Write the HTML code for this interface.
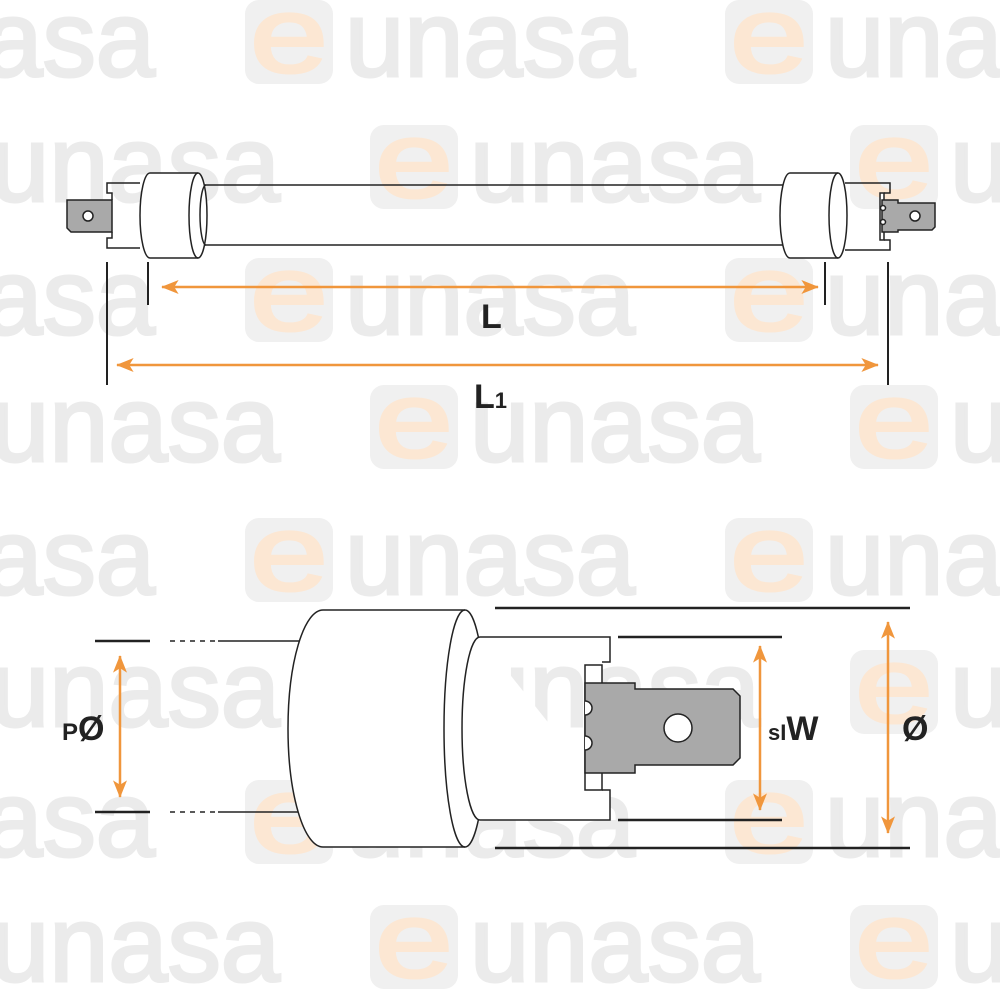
<!DOCTYPE html>
<html><head><meta charset="utf-8"><style>
html,body{margin:0;padding:0;background:#fff;}
svg{display:block}
</style></head><body>
<svg width="1000" height="1000" viewBox="0 0 1000 1000" xmlns="http://www.w3.org/2000/svg">
<defs>
<g id="wm">
<rect x="0" y="0" width="88" height="84" rx="14" fill="#f0f0f0"/>
<text x="44" y="72" font-family="Liberation Sans, sans-serif" font-size="108" text-anchor="middle" textLength="78" lengthAdjust="spacingAndGlyphs" fill="#fce7d3" stroke="#fce7d3" stroke-width="3">e</text>
<text x="100" y="76" font-family="Liberation Sans, sans-serif" font-size="108" textLength="290" lengthAdjust="spacingAndGlyphs" fill="#ebebeb" stroke="#ebebeb" stroke-width="3">unasa</text>
</g>
<marker id="ar" viewBox="0 0 20 16" refX="19" refY="8" markerWidth="18" markerHeight="14" orient="auto-start-reverse" markerUnits="userSpaceOnUse">
<path d="M0,0 L20,8 L0,16 L5,8 z" fill="#f0963c"/>
</marker>
</defs>
<g>
<use href="#wm" x="-235" y="0"/><use href="#wm" x="245" y="0"/><use href="#wm" x="725" y="0"/>
<use href="#wm" x="-110" y="125"/><use href="#wm" x="370" y="125"/><use href="#wm" x="850" y="125"/>
<use href="#wm" x="-235" y="258"/><use href="#wm" x="245" y="258"/><use href="#wm" x="725" y="258"/>
<use href="#wm" x="-110" y="385"/><use href="#wm" x="370" y="385"/><use href="#wm" x="850" y="385"/>
<use href="#wm" x="-235" y="518"/><use href="#wm" x="245" y="518"/><use href="#wm" x="725" y="518"/>
<use href="#wm" x="-110" y="650"/><use href="#wm" x="370" y="650"/><use href="#wm" x="850" y="650"/>
<use href="#wm" x="-235" y="780"/><use href="#wm" x="245" y="780"/><use href="#wm" x="725" y="780"/>
<use href="#wm" x="-110" y="905"/><use href="#wm" x="370" y="905"/><use href="#wm" x="850" y="905"/>
</g>

<g fill="none" stroke="#222" stroke-width="1.5">
<line x1="200" y1="185" x2="788" y2="185"/>
<line x1="200" y1="245" x2="788" y2="245"/>
<path d="M140,183 H107 V193 H112 V200 M112,232 V238 H107 V248 H140" />
<path d="M112,200 H67 V228 L71,232 H112 Z" fill="#a9a9a9"/>
<circle cx="88" cy="216" r="5" fill="#fff"/>
<path d="M150,173 H198 A9,42.5 0 0 1 198,258 H150 A10,42.5 0 0 1 150,173 Z" fill="#fff"/>
<path d="M198,173 A9,42.5 0 0 0 198,258"/>
<path d="M206,185 A6,30 0 0 0 206,245"/>
<path d="M790,173 H838 A9,42.5 0 0 1 838,258 H790 A10,42.5 0 0 1 790,173 Z" fill="#fff"/>
<path d="M838,173 A9,42.5 0 0 0 838,258"/>
<path d="M845,183 H890 V193 H884 M884,240 H890 V250 H845" />
<path d="M884,193 V240 H880 V193 Z" fill="#fff"/>
<path d="M882,200 H898 V203 H935 V227 L932,230 H898 V232 H882 Z" fill="#a9a9a9"/>
<circle cx="915" cy="216" r="5" fill="#fff"/>
<circle cx="883" cy="208" r="2.5" fill="#fff"/>
<circle cx="883" cy="222" r="2.5" fill="#fff"/>
</g>
<g stroke="#222" stroke-width="2">
<line x1="107" y1="262" x2="107" y2="385"/>
<line x1="148" y1="262" x2="148" y2="305"/>
<line x1="825" y1="262" x2="825" y2="305"/>
<line x1="888" y1="262" x2="888" y2="385"/>
</g>
<g stroke="#f0963c" stroke-width="2.5">
<line x1="162" y1="287" x2="818" y2="287" marker-start="url(#ar)" marker-end="url(#ar)"/>
<line x1="117" y1="365" x2="878" y2="365" marker-start="url(#ar)" marker-end="url(#ar)"/>
</g>
<text x="481" y="328" font-family="Liberation Sans, sans-serif" font-weight="bold" font-size="34" fill="#222">L</text>
<text x="474" y="408" font-family="Liberation Sans, sans-serif" font-weight="bold" font-size="34" fill="#222">L<tspan font-size="22">1</tspan></text>

<g fill="none" stroke="#222" stroke-width="1.5">
<line x1="218" y1="641" x2="305" y2="641"/>
<line x1="218" y1="812" x2="305" y2="812"/>
<path d="M323,610 H465 A21,118.5 0 0 1 465,847 H323 A35,118.5 0 0 1 323,610 Z" fill="#fff"/>
<path d="M465,610 A21,118.5 0 0 0 465,847"/>
<path d="M480,637 H610 V662 H602 M602,790 H610 V820 H480 A18,91.5 0 0 1 480,637" fill="#fff"/>
<path d="M585,665 H602 V790 H585 Z" fill="#fff"/>
<path d="M585,683 H635 V689 H733 L740,696 V758 L733,765 H635 V773 H585 Z" fill="#a9a9a9"/>
<circle cx="678" cy="728" r="14" fill="#fff"/>
<path d="M585,701 A7,7 0 0 1 585,715" fill="#fff"/>
<path d="M585,736 A7,7 0 0 1 585,750" fill="#fff"/>
</g>
<g stroke="#222" stroke-width="2.5">
<line x1="95" y1="641" x2="150" y2="641"/>
<line x1="95" y1="812" x2="150" y2="812"/>
<line x1="170" y1="641" x2="218" y2="641" stroke-width="1.5" stroke-dasharray="5,5"/>
<line x1="170" y1="812" x2="218" y2="812" stroke-width="1.5" stroke-dasharray="5,5"/>
<line x1="495" y1="608" x2="910" y2="608"/>
<line x1="495" y1="848" x2="910" y2="848"/>
<line x1="618" y1="637" x2="782" y2="637"/>
<line x1="618" y1="820" x2="782" y2="820"/>
</g>
<g stroke="#f0963c" stroke-width="2.5">
<line x1="120" y1="656" x2="120" y2="797" marker-start="url(#ar)" marker-end="url(#ar)"/>
<line x1="760" y1="646" x2="760" y2="810" marker-start="url(#ar)" marker-end="url(#ar)"/>
<line x1="888" y1="622" x2="888" y2="833" marker-start="url(#ar)" marker-end="url(#ar)"/>
</g>
<text x="62" y="740" font-family="Liberation Sans, sans-serif" font-weight="bold" font-size="24" fill="#222">P<tspan font-size="34">Ø</tspan></text>
<text x="768" y="740" font-family="Liberation Sans, sans-serif" font-weight="bold" font-size="22" fill="#222">sI<tspan font-size="34">W</tspan></text>
<text x="902" y="740" font-family="Liberation Sans, sans-serif" font-weight="bold" font-size="34" fill="#222">Ø</text>
</svg>
</body></html>
